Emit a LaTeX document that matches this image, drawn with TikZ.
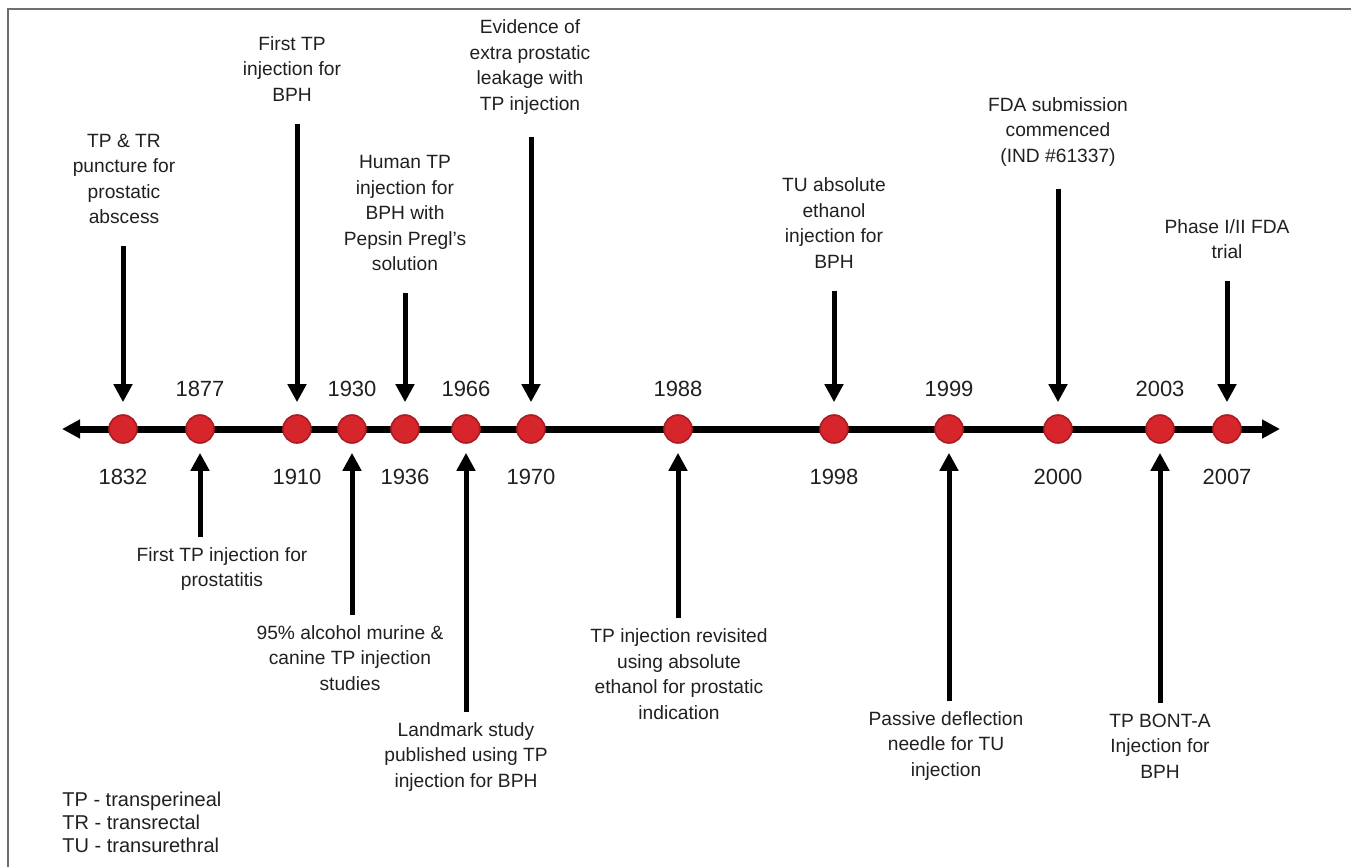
\documentclass[tikz,border=0pt]{standalone}
\usepackage{fontspec}
\setmainfont{Liberation Sans}
\usetikzlibrary{arrows.meta}
\definecolor{dotred}{RGB}{214,38,44}
\definecolor{dotedge}{RGB}{170,28,34}
\definecolor{inkgray}{RGB}{35,31,32}
\definecolor{framegray}{RGB}{110,110,110}

\begin{document}
\begin{tikzpicture}[x=0.5pt,y=0.5pt,
  dot/.style={circle,fill=dotred,draw=dotedge,line width=0.8pt,minimum size=14pt,inner sep=0pt},
  yr/.style={text=inkgray,inner sep=0pt,font=\fontsize{11}{13}\selectfont},
  event/.style={text=inkgray,align=center,inner sep=0pt,font=\fontsize{9.6}{12.75}\selectfont},
  pin/.style={line width=2.5pt,-{Triangle[length=9pt,width=9pt]}},
  pindown/.style={pin,shorten <=11pt,shorten >=6pt},
  pinup/.style={pin,shorten <=5pt,shorten >=4.5pt}]
\useasboundingbox (0,0) rectangle (1351,-867);
\draw[framegray,line width=1pt] (8,-867) -- (8,-9) -- (1351,-9);
\coordinate (west) at (62,-429);
\coordinate (east) at (1280,-429);
\draw[line width=3.5pt,{Triangle[length=9pt,width=9pt]}-{Triangle[length=9pt,width=9pt]}] (west) -- (east);
\node[dot] (d1832) at (123,-429) {};
\node[dot] (d1877) at (200,-429) {};
\node[dot] (d1910) at (297,-429) {};
\node[dot] (d1930) at (352,-429) {};
\node[dot] (d1936) at (405,-429) {};
\node[dot] (d1966) at (466,-429) {};
\node[dot] (d1970) at (531,-429) {};
\node[dot] (d1988) at (678,-429) {};
\node[dot] (d1998) at (834,-429) {};
\node[dot] (d1999) at (949,-429) {};
\node[dot] (d2000) at (1058,-429) {};
\node[dot] (d2003) at (1160,-429) {};
\node[dot] (d2007) at (1227,-429) {};
\node[yr] (y1832) at (123,-477) {1832};
\node[yr] (y1877) at (200,-389) {1877};
\node[yr] (y1910) at (297,-477) {1910};
\node[yr] (y1930) at (352,-389) {1930};
\node[yr] (y1936) at (405,-477) {1936};
\node[yr] (y1966) at (466,-389) {1966};
\node[yr] (y1970) at (531,-477) {1970};
\node[yr] (y1988) at (678,-389) {1988};
\node[yr] (y1998) at (834,-477) {1998};
\node[yr] (y1999) at (949,-389) {1999};
\node[yr] (y2000) at (1058,-477) {2000};
\node[yr] (y2003) at (1160,-389) {2003};
\node[yr] (y2007) at (1227,-477) {2007};
\node[event] (l1832) at (124,-179) {TP \& TR\\puncture for\\prostatic\\abscess};
\node[event] (l1910) at (292,-69) {First TP\\injection for\\BPH};
\node[event] (l1936) at (405,-213) {Human TP\\injection for\\BPH with\\Pepsin Pregl’s\\solution};
\node[event] (l1970) at (530,-67) {Evidence of\\extra prostatic\\leakage with\\TP injection};
\node[event] (l1998) at (834,-223) {TU absolute\\ethanol\\injection for\\BPH};
\node[event] (l2000) at (1058,-132) {FDA submission\\commenced\\(IND \#61337)};
\node[event] (l2007) at (1227,-239) {Phase I/II FDA\\trial};
\node[event] (l1877) at (222,-569) {First TP injection for\\prostatitis};
\node[event] (l1930) at (350,-658) {95\% alcohol murine \&\\canine TP injection\\studies};
\node[event] (l1966) at (466,-757) {Landmark study\\published using TP\\injection for BPH};
\node[event] (l1988) at (679,-674) {TP injection revisited\\using absolute\\ethanol for prostatic\\indication};
\node[event] (l1999) at (946,-746) {Passive deflection\\needle for TU\\injection};
\node[event] (l2003) at (1160,-746) {TP BONT-A\\Injection for\\BPH};
\node[event,align=left,anchor=north west,font=\fontsize{10}{11.5}\selectfont] (key) at (62,-792) {TP - transperineal\\TR - transrectal\\TU - transurethral};
\draw[pindown] (l1832.south -| d1832) -- (d1832.north);
\draw[pindown] (l1910.south -| d1910) -- (d1910.north);
\draw[pindown] (l1936.south -| d1936) -- (d1936.north);
\draw[pindown] (l1970.south -| d1970) -- (d1970.north);
\draw[pindown] (l1998.south -| d1998) -- (d1998.north);
\draw[pindown] (l2000.south -| d2000) -- (d2000.north);
\draw[pindown] (l2007.south -| d2007) -- (d2007.north);
\draw[pinup] (l1877.north -| d1877) -- (d1877.south);
\draw[pinup] (l1930.north -| d1930) -- (d1930.south);
\draw[pinup] (l1966.north -| d1966) -- (d1966.south);
\draw[pinup] (l1988.north -| d1988) -- (d1988.south);
\draw[pinup] (l1999.north -| d1999) -- (d1999.south);
\draw[pinup] (l2003.north -| d2003) -- (d2003.south);
\end{tikzpicture}
\end{document}
